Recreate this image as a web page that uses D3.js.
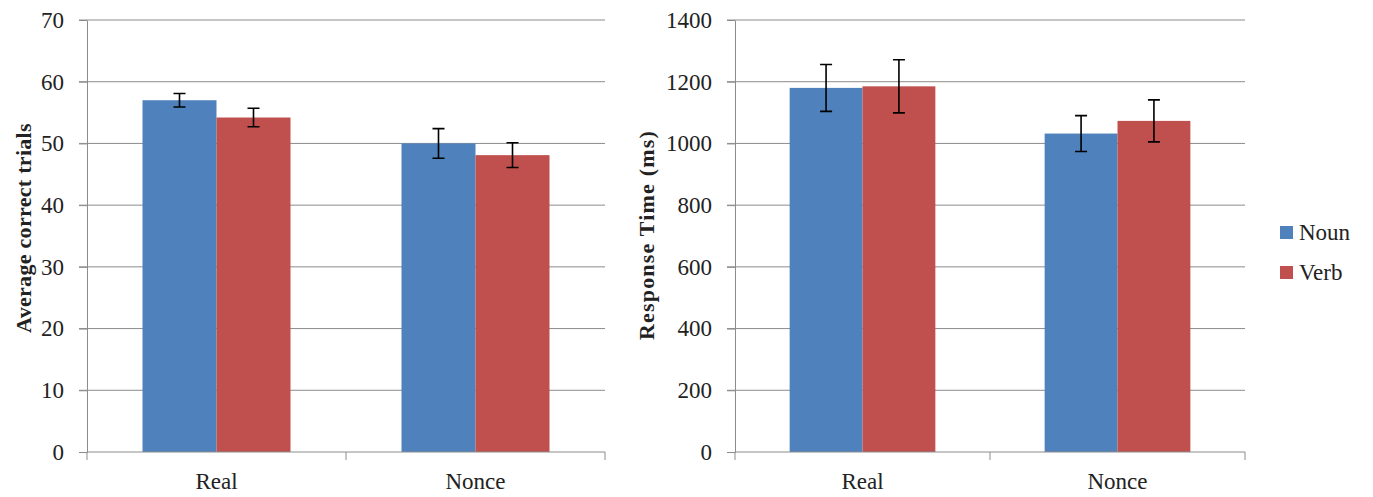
<!DOCTYPE html>
<html>
<head>
<meta charset="utf-8">
<script src="https://cdn.jsdelivr.net/npm/d3@7"></script>
<style>
  body { margin: 0; background: #fff; }
  text { font-family: "Liberation Serif", "Times New Roman", serif; fill: #222; }
  .grid line { stroke: #8c8c8c; stroke-width: 1; }
  .axis path, .axis line { stroke: #8c8c8c; }
  .err { stroke: #000; stroke-width: 1.6; fill: none; }
</style>
</head>
<body>
<svg id="svg" width="1373" height="497"></svg>
<script>
const categories = ["Real", "Nonce"];
const series = ["Noun", "Verb"];
const colors = ["#4f81bd", "#c0504d"];

// left panel: average correct trials
const accuracy = [[57.0, 54.2], [50.0, 48.1]];
const accuracyErr = [[1.1, 1.5], [2.4, 2.0]];
const accuracyTicks = [0, 10, 20, 30, 40, 50, 60, 70];

// right panel: response time (ms)
const rt = [[1180, 1185], [1032, 1073]];
const rtErr = [[76, 86], [58, 68]];
const rtTicks = [0, 200, 400, 600, 800, 1000, 1200, 1400];

const svg = d3.select("svg#svg");

var drawPanel = function(opts) {
  const g = svg.append("g");
  const x = d3.scaleBand().domain(categories).range([opts.x0, opts.x1]).paddingInner(0).paddingOuter(0);
  const y = d3.scaleLinear().domain([0, opts.max]).range([452, 20]);
  const inner = d3.scaleBand().domain(series).range([0, x.bandwidth()]).paddingInner(0).paddingOuter(0.75);

  // gridlines
  g.append("g").attr("class", "grid")
    .selectAll("line")
    .data(opts.ticks.filter(d => d > 0))
    .enter()
    .append("line")
    .attr("x1", opts.x0 - 8).attr("x2", opts.x1)
    .attr("y1", d => y(d)).attr("y2", d => y(d));

  // bars
  categories.forEach(function(c, i) {
    series.forEach(function(s, j) {
      const v = opts.values[i][j];
      const e = opts.errors[i][j];
      const bx = x(c) + inner(s);
      g.append("rect")
        .attr("x", bx).attr("width", inner.bandwidth())
        .attr("y", y(v)).attr("height", y(0) - y(v))
        .attr("fill", colors[j]);
      const cx = bx + inner.bandwidth() / 2;
      g.append("path").attr("class", "err")
        .attr("d", "M" + (cx - 6) + "," + y(v + e) + "H" + (cx + 6) +
          "M" + cx + "," + y(v + e) + "V" + y(v - e) +
          "M" + (cx - 6) + "," + y(v - e) + "H" + (cx + 6));
    });
  });

  // y axis
  const yAxis = g.append("g").attr("class", "axis")
    .attr("transform", "translate(" + opts.x0 + ",0)")
    .call(d3.axisLeft(y).tickValues(opts.ticks).tickFormat(d3.format("d"))
      .tickSize(8).tickSizeOuter(0).tickPadding(15));
  yAxis.selectAll("text").style("font-size", "23px").attr("font-family", null);

  // x axis
  const xAxis = g.append("g").attr("class", "axis")
    .attr("transform", "translate(0," + y(0) + ")");
  xAxis.append("line").attr("x1", opts.x0).attr("x2", opts.x1).attr("y1", 0).attr("y2", 0);
  [opts.x0, opts.x0 + x.bandwidth(), opts.x1].forEach(function(t) {
    xAxis.append("line").attr("x1", t).attr("x2", t).attr("y1", 0).attr("y2", 8);
  });
  xAxis.selectAll("text.cat")
    .data(categories)
    .enter()
    .append("text")
    .attr("class", "cat")
    .attr("x", d => x(d) + x.bandwidth() / 2)
    .attr("y", 37)
    .attr("text-anchor", "middle")
    .style("font-size", "23px")
    .text(d => d);

  // axis title
  g.append("text")
    .attr("transform", "translate(" + opts.titleX + "," + opts.titleY + ") rotate(-90)")
    .attr("text-anchor", "middle")
    .style("font-size", "22px")
    .style("font-weight", "bold")
    .style("letter-spacing", opts.spacing)
    .text(opts.title);
}

drawPanel({x0: 87, x1: 605, max: 70, ticks: accuracyTicks, values: accuracy, errors: accuracyErr,
  title: "Average correct trials", titleX: 31, titleY: 228, spacing: "0.3px"});
drawPanel({x0: 735, x1: 1245, max: 1400, ticks: rtTicks, values: rt, errors: rtErr,
  title: "Response Time (ms)", titleX: 654, titleY: 235, spacing: "1.2px"});

// legend
const legend = svg.append("g").attr("transform", "translate(1280,232)");
series.forEach(function(s, i) {
  legend.append("rect").attr("x", 0).attr("y", i * 40 - 6).attr("width", 13).attr("height", 13).attr("fill", colors[i]);
  legend.append("text").attr("x", 19).attr("y", i * 40 + 8).style("font-size", "23px").text(s);
});
</script>
</body>
</html>
